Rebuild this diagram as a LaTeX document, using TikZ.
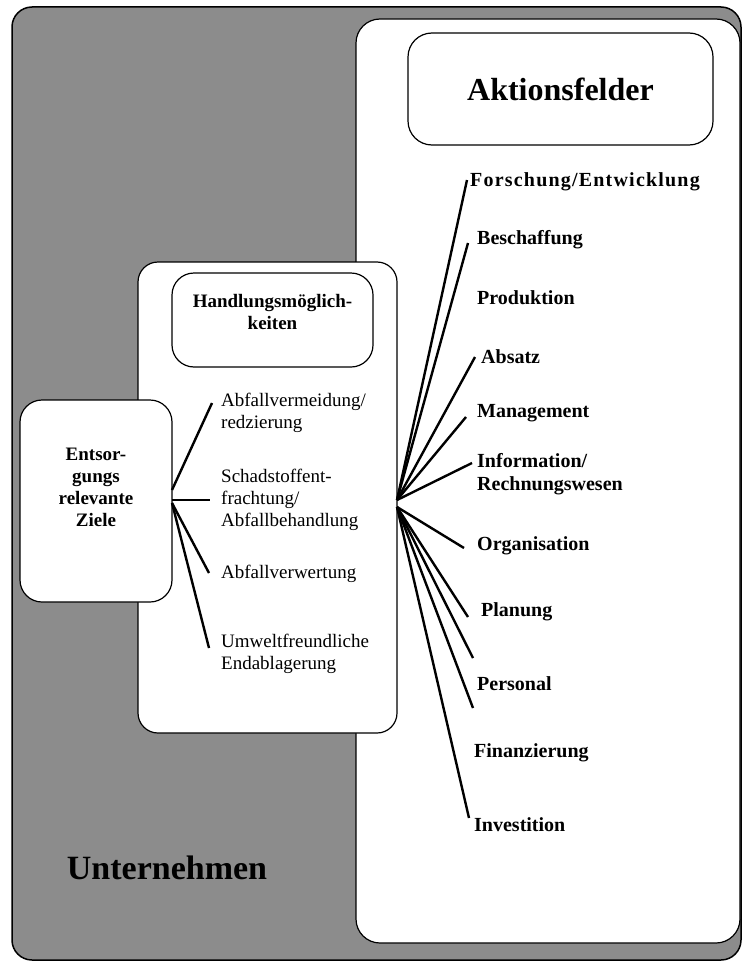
\documentclass[tikz,border=0pt]{standalone}
\usepackage{fontspec}
\setmainfont{Liberation Serif}
\usetikzlibrary{positioning}

\begin{document}
\begin{tikzpicture}[x=1pt,y=-1pt,
    panel/.style={draw,line width=1.2pt,rounded corners=20pt,fill=white,inner sep=0pt},
    titel/.style={font=\fontsize{32}{36}\selectfont\bfseries},
    kasten/.style={font=\fontsize{19}{22}\selectfont\bfseries,align=center,inner sep=0pt},
    feld/.style={font=\fontsize{20}{23}\selectfont\bfseries,anchor=west,inner sep=0pt,align=left},
    moeglich/.style={font=\fontsize{19}{22}\selectfont,anchor=west,inner sep=0pt,align=left},
    ast/.style={line width=2.4pt}]

    \useasboundingbox (0,0) rectangle (743,966);

    % Rahmen und Felder
    \node[panel,fill=black!45,line width=1.5pt,minimum width=729pt,minimum height=953pt] (unternehmen) at (376.5,483.5) {};
    \node[panel,rounded corners=24pt,minimum width=384pt,minimum height=924pt] (aktionspanel) at (548,481) {};
    \node[panel,rounded corners=24pt,titel,minimum width=305pt,minimum height=112pt] (aktionsfelder) at (560.5,89) {Aktionsfelder};
    \node[panel,minimum width=259pt,minimum height=471pt] (handpanel) at (267.5,497.5) {};
    \node[panel,rounded corners=22pt,minimum width=201pt,minimum height=94pt] (handbox) at (272.5,320) {};
    \node[kasten] (handtext) at ([yshift=8pt]handbox.center) {Handlungsm\"oglich-\\keiten};
    \node[panel,rounded corners=22pt,minimum width=152pt,minimum height=202pt] (ziele) at (96,501) {};
    \node[kasten] (zieletext) at ([yshift=14pt]ziele.center) {Entsor-\\gungs\\relevante\\Ziele};

    \node[titel,font=\fontsize{34}{38}\selectfont\bfseries] (untertext) at (167,868) {Unternehmen};

    % Handlungsmoeglichkeiten
    \node[moeglich] (vermeidung) at (221,413) {Abfallvermeidung/\\redzierung};
    \node[moeglich] (schadstoff) at (221,500) {Schadstoffent-\\frachtung/\\Abfallbehandlung};
    \node[moeglich] (verwertung) at (221,574) {Abfallverwertung};
    \node[moeglich] (endlager) at (221,654) {Umweltfreundliche\\Endablagerung};

    % Aktionsfelder
    \node[feld] (forschung) at (470,182) {\addfontfeature{LetterSpace=6}Forschung/Entwicklung};
    \node[feld] (beschaffung) at (477,240) {Beschaffung};
    \node[feld] (produktion) at (477,298) {Produktion};
    \node[feld] (absatz) at (481,357) {Absatz};
    \node[feld] (management) at (477,413) {Management};
    \node[feld] (information) at (477,474) {Information/\\Rechnungswesen};
    \node[feld] (organisation) at (477,546) {Organisation};
    \node[feld] (planung) at (481,612) {Planung};
    \node[feld] (personal) at (477,684) {Personal};
    \node[feld] (finanzierung) at (474,753) {Finanzierung};
    \node[feld] (investition) at (474,825) {Investition};

    % Verbindungen links
    \coordinate (hubLa) at (172,490);
    \coordinate (hubLb) at (172,500);
    \coordinate (hubLc) at (172,503);
    \coordinate (end-vermeidung) at (212,403);
    \coordinate (end-schadstoff) at (210,500);
    \coordinate (end-verwertung) at (209,573);
    \coordinate (end-endlager) at (209,648);
    \draw[ast] (hubLa) -- (end-vermeidung);
    \draw[ast] (hubLb) -- (end-schadstoff);
    \draw[ast] (hubLc) -- (end-verwertung);
    \draw[ast] (hubLc) -- (end-endlager);

    % Verbindungen rechts
    \coordinate (hubRa) at (397,500);
    \coordinate (hubRb) at (397,507);
    \foreach \ziel/\x/\y in {forschung/467/180, beschaffung/468/243, absatz/475/357,
        management/466/417, information/472/463}{
        \coordinate (end-\ziel) at (\x,\y);
        \draw[ast] (hubRa) -- (end-\ziel);
    }
    \foreach \ziel/\x/\y in {organisation/464/548, planung/468/617, personal/473/658,
        finanzierung/473/708, investition/469/818}{
        \coordinate (end-\ziel) at (\x,\y);
        \draw[ast] (hubRb) -- (end-\ziel);
    }

\end{tikzpicture}
\end{document}
